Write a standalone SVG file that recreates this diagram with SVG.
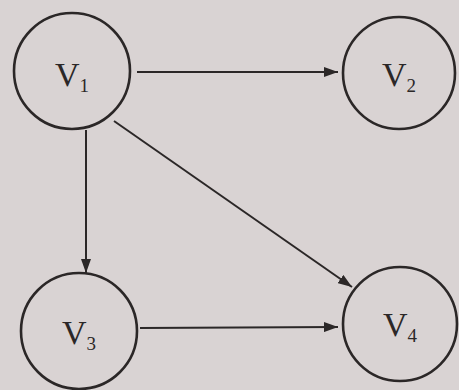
<svg xmlns="http://www.w3.org/2000/svg" width="459" height="390" viewBox="0 0 459 390">
<style>
.node circle{fill:none;stroke:#2b2727;stroke-width:2.6}
.lbl{font-family:"Liberation Serif","DejaVu Serif",serif;font-size:34px;fill:#2b2727;text-anchor:middle}
.sub{font-size:19px}
.edge{stroke:#2b2727;stroke-width:2;fill:none;marker-end:url(#ah)}
</style>
<defs>
<marker id="ah" viewBox="0 0 14 10" refX="14" refY="5" markerWidth="14" markerHeight="10" markerUnits="userSpaceOnUse" orient="auto">
<path d="M0,0 L14,5 L0,10 Z" fill="#2b2727"/>
</marker>
</defs>
<rect width="459" height="390" fill="#d9d3d3"/>
<g id="connectors">
<line class="edge" x1="137" y1="72" x2="338" y2="72"/>
<line class="edge" x1="86" y1="130" x2="86" y2="273"/>
<line class="edge" x1="114" y1="121" x2="352" y2="287"/>
<line class="edge" x1="140" y1="328" x2="338" y2="327"/>
</g>
<g id="v1" class="node"><circle cx="72" cy="71" r="58"/><text class="lbl" x="72" y="86">V<tspan class="sub" dy="6">1</tspan></text></g>
<g id="v2" class="node"><circle cx="399" cy="73" r="56"/><text class="lbl" x="399" y="86">V<tspan class="sub" dy="6">2</tspan></text></g>
<g id="v3" class="node"><circle cx="79" cy="331" r="58"/><text class="lbl" x="79" y="344">V<tspan class="sub" dy="6">3</tspan></text></g>
<g id="v4" class="node"><circle cx="400" cy="324" r="57"/><text class="lbl" x="400" y="336">V<tspan class="sub" dy="6">4</tspan></text></g>
</svg>
